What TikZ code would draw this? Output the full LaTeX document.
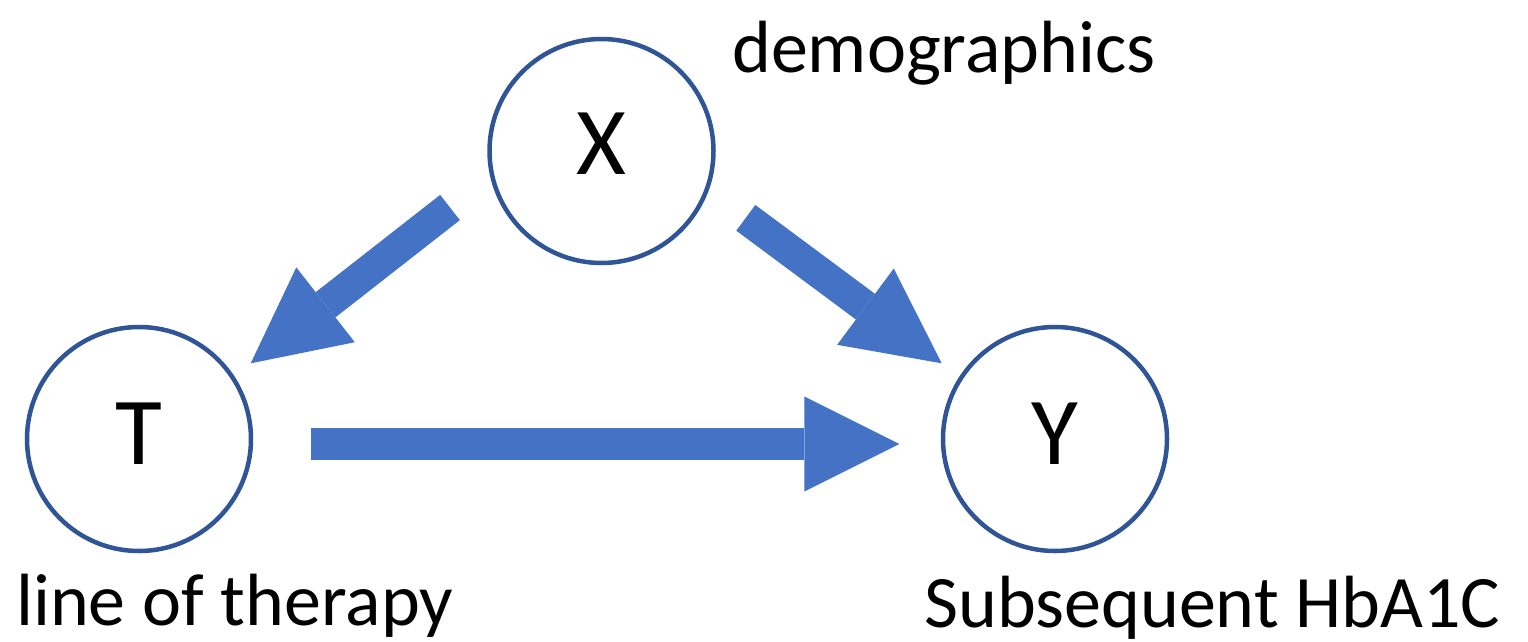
\documentclass[tikz,border=0pt]{standalone}
\usepackage{fontspec}
\setmainfont{Carlito}
\usetikzlibrary{arrows.meta}
\definecolor{arrowblue}{HTML}{4472C4}
\definecolor{ringblue}{HTML}{2F5597}
\tikzset{
  var/.style={circle, draw=ringblue, line width=4.5pt, minimum size=224pt, inner sep=0pt},
  letter/.style={font=\fontsize{96}{96}\selectfont, anchor=base, inner sep=0pt},
  lbl/.style={font=\fontsize{74}{74}\selectfont, anchor=base west, inner sep=0pt},
  blockarrow/.style={draw=arrowblue, line width=32pt,
    -{Triangle[length=95pt, width=95pt, line width=0pt]}}
}
\begin{document}
\begin{tikzpicture}[x=1pt, y=-1pt]
\useasboundingbox (0,0) rectangle (1528,641);
% nodes
\node[var] (X) at (601.5,151) {};
\node[var] (T) at (139,439) {};
\node[var] (Y) at (1055,439) {};
\node[letter] (Xl) at (601.5,174) {X};
\node[letter] (Tl) at (139,464) {T};
\node[letter] (Yl) at (1055,464) {Y};
% labels
\node[lbl] (demo) at (732,72) {demographics};
\node[lbl] (lot) at (16,625) {line of therapy};
\node[lbl] (hba) at (924,627) {Subsequent HbA1C};
% arrow end points
\coordinate (xt0) at (450,207.5);
\coordinate (xt1) at (250.7,363.3);
\coordinate (xy0) at (745.8,217.8);
\coordinate (xy1) at (941.7,363.3);
\coordinate (ty0) at (311,444);
\coordinate (ty1) at (899.3,444);
% connectors
\draw[blockarrow] (xt0) -- (xt1);
\draw[blockarrow] (xy0) -- (xy1);
\draw[blockarrow] (ty0) -- (ty1);
\end{tikzpicture}
\end{document}
